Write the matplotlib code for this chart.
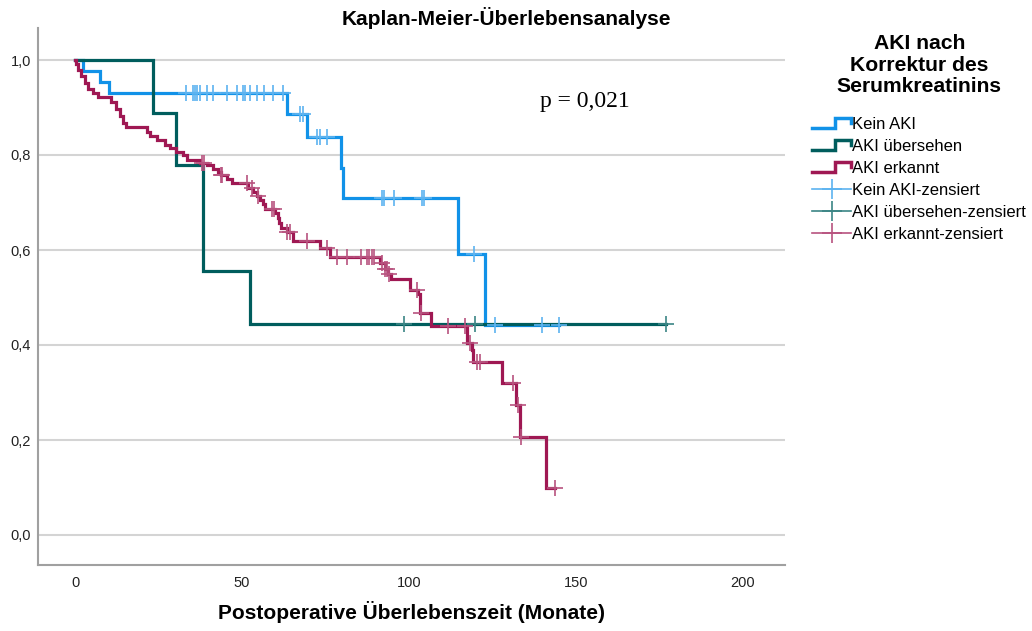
import numpy as np
import matplotlib
matplotlib.use("Agg")
import matplotlib.pyplot as plt
from matplotlib.lines import Line2D
from matplotlib.legend_handler import HandlerBase

plt.rcParams['font.family'] = ['Liberation Sans', 'DejaVu Sans']

# Kaplan-Meier Stufen (Zeit in Monaten, Überlebensanteil)
kein_t = [0, 2.4, 7.5, 10.2, 63.4, 69.4, 79.6, 80.3, 114.6, 122.8, 144.8]
kein_s = [1.0, 0.977, 0.953, 0.930, 0.886, 0.837, 0.772, 0.709, 0.592, 0.442, 0.442]
kein_cens = [33.2, 35.2, 35.9, 36.6, 37.4, 39.4, 41.4, 45.5, 48.4, 50.2, 50.9,
             52.4, 54.6, 56.6, 59.3, 62.2, 67.4, 68.4, 72.5, 73.4, 75.4, 91.8,
             92.6, 95.6, 103.8, 104.5, 119.6, 125.7, 139.9, 144.8]

uebers_t = [0, 23.3, 30.2, 38.2, 52.4, 177.0]
uebers_s = [1.0, 0.889, 0.778, 0.556, 0.444, 0.444]
uebers_cens = [98.6, 119.7, 177.0]

erk_t = [0, 0.2, 0.9, 1.9, 2.9, 3.9, 5.4, 6.9, 10.9, 12.4, 13.4, 14.4, 15.4,
         21.4, 22.4, 24.4, 26.8, 28.3, 30.3, 32.3, 33.6, 37.4, 39.4, 41.4,
         42.9, 43.6, 45.4, 46.9, 51.9, 53.4, 54.4, 55.4, 56.4, 57.0, 59.9,
         60.9, 61.2, 61.6, 63.4, 65.4, 73.4, 76.3, 91.3, 92.8, 93.8, 94.5,
         100.3, 102.8, 103.3, 106.6, 117.3, 118.8, 119.3, 127.8, 132.0,
         133.2, 141.0, 143.7]
erk_s = [1.0, 0.991, 0.979, 0.967, 0.951, 0.940, 0.930, 0.923, 0.911, 0.897,
         0.883, 0.867, 0.860, 0.849, 0.840, 0.832, 0.821, 0.814, 0.806, 0.799,
         0.790, 0.784, 0.779, 0.770, 0.765, 0.758, 0.750, 0.742, 0.730, 0.723,
         0.714, 0.705, 0.697, 0.686, 0.677, 0.668, 0.657, 0.646, 0.638, 0.620,
         0.604, 0.586, 0.573, 0.561, 0.550, 0.540, 0.516, 0.508, 0.467, 0.439,
         0.404, 0.389, 0.365, 0.319, 0.274, 0.207, 0.098, 0.098]
erk_cens = [37.9, 38.6, 43.7, 44.1, 51.4, 52.9, 54.9, 58.9, 59.7, 63.6, 64.4,
            69.4, 75.4, 78.3, 81.3, 85.6, 87.3, 88.0, 88.8, 89.5, 91.8, 92.9,
            93.5, 94.0, 102.3, 103.5, 111.8, 116.8, 118.3, 120.3, 121.3, 131.2,
            132.7, 133.4, 143.7]

gruppen = ["Kein AKI", "AKI übersehen", "AKI erkannt"]
farben = ["#1192e8", "#005d5d", "#9f1853"]
zens_farben = ["#5cb3f0", "#3b8585", "#b8537f"]


def stufe(t, s, c):
    # Überlebensanteil zum Zensierungszeitpunkt (Stufenfunktion)
    idx = np.searchsorted(np.array(t), np.array(c), side="right") - 1
    return np.array(s)[idx]


class StepHandler(HandlerBase):
    def create_artists(self, legend, orig_handle, xdescent, ydescent,
                       width, height, fontsize, trans):
        x0, y0 = -xdescent, -ydescent
        xs = [x0, x0 + 0.6 * width, x0 + 0.6 * width, x0 + width, x0 + width]
        ys = [y0 + 0.1 * height, y0 + 0.1 * height, y0 + 0.9 * height,
              y0 + 0.9 * height, y0 + 0.5 * height]
        ln = Line2D(xs, ys, color=orig_handle.get_color(),
                    lw=orig_handle.get_linewidth(), solid_joinstyle="miter")
        ln.set_transform(trans)
        return [ln]


fig = plt.figure(figsize=(10.32, 6.31), dpi=100)
ax = fig.add_axes([38 / 1032, 1 - 565 / 631, (785 - 38) / 1032, (565 - 28) / 631])

daten = [(kein_t, kein_s, kein_cens), (uebers_t, uebers_s, uebers_cens),
         (erk_t, erk_s, erk_cens)]

handles = []
zens_handles = []
for (t, s, c), name, col, zcol in zip(daten, gruppen, farben, zens_farben):
    ax.step(t, s, where="post", color=col, lw=2.3, zorder=3,
            solid_joinstyle="miter")
    ax.plot(c, stufe(t, s, c), ls="none", marker="+", ms=11, mew=1.2,
            color=zcol, zorder=4)
    handles.append(Line2D([], [], color=col, lw=2.5, label=name))
    zens_handles.append(Line2D([], [], color=zcol, lw=1.2, marker="+", ms=14,
                               mew=1.2, label=name + "-zensiert"))

ax.set_xlim(-11.1, 212.6)
ax.set_ylim((535 - 565) / 475, (535 - 28) / 475)
ax.set_xticks([0, 50, 100, 150, 200])
ax.set_yticks([0, 0.2, 0.4, 0.6, 0.8, 1.0])
ax.set_yticklabels(["0,0", "0,2", "0,4", "0,6", "0,8", "1,0"])
ax.tick_params(length=0, labelsize=10.5, colors="#222222")
ax.tick_params(axis="y", pad=5)
ax.tick_params(axis="x", pad=8)
ax.grid(axis="y", color="#d4d4d4", lw=1.5)
ax.set_axisbelow(True)
for side in ["top", "right"]:
    ax.spines[side].set_visible(False)
for side in ["left", "bottom"]:
    ax.spines[side].set_color("#a0a0a0")
    ax.spines[side].set_linewidth(1.5)

ax.text(139.2, 0.912, "p = 0,021", family="Liberation Serif", fontsize=17,
        ha="left", va="center")

fig.text(506 / 1032, 1 - 18 / 631, "Kaplan-Meier-Überlebensanalyse",
         ha="center", va="center", fontsize=15, fontweight="bold")
fig.text(411.5 / 1032, 1 - 612 / 631, "Postoperative Überlebenszeit (Monate)",
         ha="center", va="center", fontsize=15, fontweight="bold")

alle = handles + zens_handles
leg = fig.legend(handles=alle, labels=[h.get_label() for h in alle],
                 loc="upper left", bbox_to_anchor=(804 / 1032, 1 - 26 / 631),
                 frameon=False, fontsize=12, handlelength=2.3,
                 handletextpad=0.1, labelspacing=0.42, borderpad=0,
                 title="AKI nach\nKorrektur des\nSerumkreatinins",
                 title_fontproperties={"weight": "bold", "size": 15.2},
                 handler_map={h: StepHandler() for h in handles})
leg.get_title().set_multialignment("center")
leg.get_title().set_linespacing(1.15)
leg._legend_box.sep = 15

fig.savefig("out.png", dpi=100)
